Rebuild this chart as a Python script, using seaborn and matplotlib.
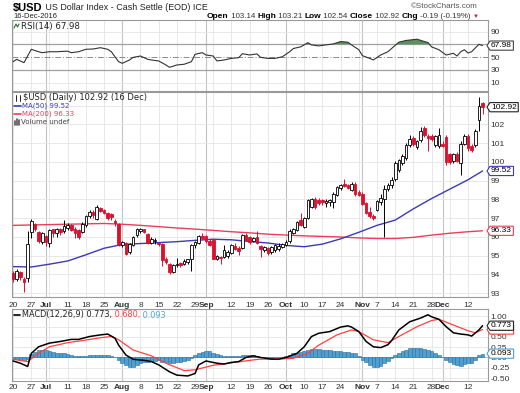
import numpy as np
import pandas as pd
import matplotlib
matplotlib.use("Agg")
import matplotlib.pyplot as plt
from matplotlib.lines import Line2D
from matplotlib.patches import Polygon
import seaborn as sns

# ---------------- data ----------------
dates = pd.bdate_range("2016-06-20", "2016-12-16")

open_ = [94.10, 93.75, 94.15, 93.75, 93.80, 96.25, 96.70, 96.25, 95.75, 96.05,
         95.70, 96.40, 96.20, 96.40, 96.30, 96.50, 96.65, 96.45, 96.35, 96.25,
         96.65, 97.10, 97.35, 96.95, 97.55, 97.45, 97.30, 97.20, 96.85, 96.70,
         95.55, 95.70, 95.20, 95.55, 96.10, 96.30, 96.40, 96.15, 95.70, 95.80,
         95.70, 95.65, 94.80, 94.55, 94.15, 94.50, 94.60, 94.55, 94.65, 94.80,
         95.55, 95.70, 96.05, 96.05, 95.80, 95.85, 94.80, 94.95, 94.95, 95.00,
         95.15, 95.50, 95.40, 95.40, 96.10, 96.00, 95.80, 96.00, 95.50, 95.30,
         95.40, 95.20, 95.30, 95.35, 95.45, 95.55, 95.80, 96.20, 96.35, 96.90,
         96.55, 97.00, 97.60, 98.05, 97.95, 97.95, 97.80, 97.85, 97.85, 98.25,
         98.60, 98.80, 98.75, 98.50, 98.85, 98.40, 98.30, 97.80, 97.35, 97.10,
         97.45, 97.85, 98.00, 98.55, 98.75, 99.10, 99.55, 99.95, 100.20, 100.90,
         101.30, 100.80, 101.15, 101.80, 101.40, 101.40, 100.90, 100.85, 100.95, 101.35,
         100.40, 100.05, 100.40, 99.95, 100.95, 101.40, 100.85, 100.90, 102.25, 103.14]
high = [94.20, 94.30, 94.20, 93.85, 96.30, 96.95, 96.75, 96.30, 96.25, 96.10,
        96.40, 96.45, 96.50, 96.50, 96.90, 96.75, 96.70, 96.55, 96.40, 96.80,
        97.15, 97.45, 97.45, 97.70, 97.60, 97.50, 97.35, 97.30, 96.95, 96.75,
        95.80, 95.75, 95.70, 96.05, 96.50, 96.50, 96.45, 96.20, 96.00, 95.95,
        95.75, 95.70, 94.95, 94.60, 94.55, 94.90, 94.65, 94.80, 94.85, 95.60,
        95.80, 96.10, 96.20, 96.10, 95.90, 95.90, 95.05, 95.00, 95.55, 95.30,
        95.60, 95.70, 95.50, 96.15, 96.20, 96.05, 96.00, 96.30, 95.55, 95.50,
        95.45, 95.50, 95.60, 95.70, 95.70, 95.85, 96.45, 96.50, 96.85, 97.30,
        97.05, 98.05, 98.10, 98.15, 98.10, 98.00, 98.00, 98.00, 98.40, 98.70,
        98.85, 99.10, 98.85, 98.95, 98.95, 98.50, 98.40, 97.85, 97.60, 97.25,
        97.95, 98.30, 98.75, 98.90, 99.20, 100.05, 100.15, 100.40, 101.00, 101.45,
        101.40, 101.15, 101.85, 101.90, 101.50, 101.50, 101.45, 101.80, 101.10, 101.45,
        100.50, 100.50, 100.55, 101.10, 101.50, 101.50, 100.95, 101.75, 103.45, 103.21]
low = [93.60, 93.65, 93.70, 93.05, 93.60, 95.95, 96.30, 95.70, 95.60, 95.50,
       95.45, 96.00, 96.00, 96.10, 96.20, 96.35, 96.30, 95.95, 95.90, 96.20,
       96.55, 97.00, 97.00, 96.90, 97.35, 97.20, 96.90, 96.90, 96.60, 95.50,
       95.45, 95.05, 95.10, 95.50, 96.00, 96.20, 96.20, 95.60, 95.60, 95.60,
       95.50, 94.45, 94.55, 94.05, 94.10, 94.40, 94.40, 94.50, 94.55, 94.20,
       95.40, 95.65, 95.90, 95.70, 95.50, 94.80, 94.75, 94.55, 94.90, 94.90,
       95.10, 95.30, 95.05, 95.35, 95.80, 95.65, 95.75, 95.60, 94.95, 95.20,
       95.05, 95.10, 95.20, 95.25, 95.40, 95.50, 95.70, 96.15, 96.30, 96.60,
       96.50, 96.95, 97.55, 97.50, 97.70, 97.70, 97.60, 97.65, 97.55, 98.20,
       98.50, 98.65, 98.55, 98.45, 98.20, 98.20, 97.70, 97.20, 97.00, 96.90,
       97.40, 97.70, 96.00, 98.45, 98.60, 99.00, 99.45, 99.85, 100.10, 100.80,
       100.85, 100.70, 101.05, 101.35, 100.60, 101.10, 100.80, 100.75, 100.80, 99.85,
       99.90, 99.95, 100.00, 99.30, 100.90, 100.60, 100.55, 100.80, 101.65, 102.54]
close = [93.75, 94.20, 93.85, 93.60, 95.60, 96.85, 96.40, 95.80, 96.20, 95.75,
         96.35, 96.20, 96.40, 96.25, 96.60, 96.65, 96.35, 96.20, 96.00, 96.70,
         97.10, 97.35, 97.15, 97.60, 97.40, 97.30, 97.00, 97.05, 96.75, 95.55,
         95.75, 95.10, 95.60, 96.00, 96.40, 96.40, 96.25, 95.70, 95.90, 95.85,
         95.60, 94.75, 94.65, 94.15, 94.50, 94.55, 94.50, 94.70, 94.80, 95.55,
         95.75, 96.05, 95.95, 95.80, 95.55, 94.85, 95.00, 94.90, 95.30, 95.20,
         95.55, 95.35, 95.25, 96.10, 95.85, 95.75, 95.95, 95.70, 95.35, 95.45,
         95.15, 95.45, 95.55, 95.50, 95.60, 95.75, 96.30, 96.40, 96.80, 96.65,
         97.00, 97.95, 98.05, 97.60, 97.80, 97.85, 97.90, 97.95, 98.30, 98.65,
         98.75, 98.70, 98.60, 98.85, 98.30, 98.25, 97.75, 97.30, 97.10, 97.00,
         97.90, 98.10, 98.55, 98.75, 99.05, 99.95, 100.10, 100.30, 100.90, 101.25,
         100.95, 101.10, 101.65, 101.45, 101.30, 101.25, 101.40, 101.45, 100.85, 100.00,
         100.00, 100.40, 100.05, 100.95, 101.40, 100.75, 100.65, 101.65, 103.00, 102.92]

ma_day = [0, 5, 10, 15, 20, 25, 30, 35, 40, 45, 50, 55, 60, 65, 70, 75, 80,
          85, 90, 95, 100, 105, 110, 115, 120, 125, 129]
ma50 = [94.42, 94.40, 94.55, 94.72, 95.05, 95.40, 95.60, 95.65, 95.70, 95.75,
        95.82, 95.88, 95.85, 95.76, 95.68, 95.55, 95.48, 95.62, 95.90, 96.25,
        96.62, 96.90, 97.50, 98.05, 98.55, 99.05, 99.52]
ma200 = [96.62, 96.64, 96.66, 96.68, 96.70, 96.72, 96.68, 96.62, 96.55, 96.48,
         96.42, 96.35, 96.28, 96.22, 96.15, 96.10, 96.06, 96.03, 96.00, 95.95,
         95.92, 95.92, 95.98, 96.10, 96.20, 96.28, 96.33]

rsi_day = [0, 1, 3, 5, 7, 8, 10, 12, 15, 16, 18, 20, 22, 24, 26, 27, 29, 30, 32,
           33, 35, 37, 38, 40, 42, 43, 45, 47, 49, 50, 52, 53, 55, 56, 58, 60,
           62, 63, 65, 67, 68, 70, 72, 74, 76, 77, 79, 81, 82, 84, 86, 88, 90,
           92, 93, 95, 96, 98, 99, 101, 103, 104, 106, 108, 111, 113, 114, 115,
           117, 119, 121, 122, 123, 124, 125, 126, 128, 129]
rsi_val = [42.8, 46.5, 41.3, 62.2, 58.4, 56.9, 58.4, 58.4, 59.3, 56.9, 58.4,
           62.2, 62.7, 64.7, 62.2, 58.4, 42.8, 40.3, 45.5, 49.6, 51.7, 46.5,
           45.5, 44.0, 37.7, 34.0, 37.7, 38.8, 42.8, 54.4, 56.9, 53.3, 51.7,
           44.0, 45.5, 48.0, 49.1, 55.3, 53.3, 55.0, 49.6, 48.0, 48.0, 50.6,
           58.4, 63.4, 66.0, 72.5, 69.1, 67.5, 69.1, 70.6, 74.3, 73.3, 69.1,
           61.5, 52.2, 48.0, 45.5, 53.3, 58.4, 63.4, 73.3, 76.0, 78.0, 74.3,
           72.8, 66.0, 61.5, 53.3, 55.9, 51.7, 58.4, 61.5, 56.4, 58.4, 70.0, 67.98]

macd_day = [0, 2, 4, 5, 7, 10, 13, 16, 18, 21, 24, 26, 28, 29, 31, 33, 36, 38,
            40, 43, 45, 48, 50, 51, 53, 56, 58, 60, 62, 64, 66, 68, 71, 73, 75,
            78, 80, 82, 84, 87, 90, 92, 93, 95, 97, 99, 101, 103, 104, 106, 109,
            112, 114, 115, 117, 119, 121, 123, 125, 126, 128, 129]
macd_val = [-0.085, -0.14, -0.22, 0.10, 0.26, 0.35, 0.39, 0.44, 0.44, 0.51, 0.55,
            0.57, 0.47, 0.30, 0.06, -0.045, -0.07, -0.10, -0.18, -0.35, -0.43,
            -0.45, -0.39, -0.18, -0.085, -0.14, -0.16, -0.12, -0.10, 0.0, 0.04,
            0.0, -0.04, -0.04, 0.0, 0.10, 0.26, 0.51, 0.59, 0.63, 0.74, 0.77,
            0.74, 0.63, 0.39, 0.26, 0.24, 0.31, 0.41, 0.67, 0.87, 0.96, 1.04,
            0.99, 0.93, 0.75, 0.60, 0.57, 0.55, 0.52, 0.67, 0.773]
signal_day = [0, 4, 7, 10, 15, 19, 24, 27, 29, 33, 38, 42, 47, 50, 55, 60, 66,
              68, 73, 77, 81, 84, 89, 93, 95, 99, 103, 106, 111, 115, 117, 121,
              125, 127, 129]
signal_val = [-0.045, -0.10, 0.10, 0.26, 0.36, 0.41, 0.48, 0.51, 0.43, 0.18,
              0.04, -0.14, -0.32, -0.30, -0.19, -0.13, -0.06, -0.04, -0.04,
              -0.02, 0.10, 0.30, 0.55, 0.67, 0.63, 0.43, 0.36, 0.51, 0.75, 0.90,
              0.93, 0.79, 0.65, 0.60, 0.68]
hist = [-0.03, -0.04, -0.05, -0.06, -0.03, 0.08, 0.14, 0.17, 0.18, 0.17,
        0.15, 0.13, 0.12, 0.11, 0.10, 0.08, 0.06, 0.04, 0.03, 0.03,
        0.04, 0.05, 0.06, 0.07, 0.07, 0.06, 0.05, 0.03, 0.0, -0.06,
        -0.13, -0.19, -0.23, -0.22, -0.18, -0.14, -0.11, -0.10, -0.09, -0.08,
        -0.07, -0.10, -0.12, -0.14, -0.13, -0.12, -0.10, -0.08, -0.06, -0.02,
        0.05, 0.10, 0.13, 0.15, 0.15, 0.12, 0.08, 0.05, 0.04, 0.03,
        0.03, 0.03, 0.03, 0.05, 0.06, 0.07, 0.06, 0.04, 0.02, 0.01,
        0.0, -0.01, 0.0, 0.01, 0.02, 0.04, 0.07, 0.10, 0.12, 0.14,
        0.16, 0.19, 0.20, 0.20, 0.20, 0.19, 0.18, 0.17, 0.16, 0.15,
        0.15, 0.14, 0.13, 0.12, 0.10, 0.03, -0.05, -0.12, -0.18, -0.22,
        -0.24, -0.20, -0.14, -0.08, -0.02, 0.05, 0.10, 0.15, 0.19, 0.22,
        0.24, 0.23, 0.22, 0.21, 0.19, 0.16, 0.12, 0.07, 0.02, -0.05,
        -0.11, -0.15, -0.19, -0.20, -0.17, -0.14, -0.13, -0.06, 0.05, 0.093]

tick_labels = ["20", "27", "Jul", "11", "18", "25", "Aug", "8", "15", "22", "29",
               "Sep", "12", "19", "26", "Oct", "10", "17", "24", "Nov", "7", "14",
               "21", "28", "Dec", "12"]
tick_dates = ["2016-06-20", "2016-06-27", "2016-07-01", "2016-07-11", "2016-07-18",
              "2016-07-25", "2016-08-01", "2016-08-08", "2016-08-15", "2016-08-22",
              "2016-08-29", "2016-09-01", "2016-09-12", "2016-09-19", "2016-09-26",
              "2016-10-03", "2016-10-10", "2016-10-17", "2016-10-24", "2016-11-01",
              "2016-11-07", "2016-11-14", "2016-11-21", "2016-11-28", "2016-12-01",
              "2016-12-12"]
month_labels = ["Jul", "Aug", "Sep", "Oct", "Nov", "Dec"]

# ---------------- style ----------------
sns.set_theme(style="white")
plt.rcParams['font.family'] = ['Liberation Sans', 'DejaVu Sans']

W, H = 520, 393
fig = plt.figure(figsize=(W / 100, H / 100), dpi=100)
fig.patch.set_facecolor("white")

def fx(px):
    return px / W

def fy(py):
    return 1 - py / H

L, R = 12, 488
ax_r = fig.add_axes([fx(L), fy(91), (R - L) / W, (91 - 20) / H])
ax_p = fig.add_axes([fx(L), fy(297), (R - L) / W, (297 - 92) / H])
ax_m = fig.add_axes([fx(L), fy(381), (R - L) / W, (381 - 309) / H])

n = len(dates)
xi = np.arange(n)
tick_idx = [dates.get_loc(pd.Timestamp(d)) for d in tick_dates]
mondays = [i for i, d in enumerate(dates) if d.weekday() == 0]
month_idx = [tick_idx[k] for k, lab in enumerate(tick_labels) if lab in month_labels]

RED = "#d9102e"
GRID = "#e4e4e4"
MGRID = "#c4c4c4"
SPINE = "#9a9a9a"
LBL = "#333333"
MA50C = "#3b3bb5"
MA200C = "#e8405a"
SIGC = "#ff4040"
HISTC = "#4f9fd2"

for ax in (ax_r, ax_p, ax_m):
    ax.set_facecolor("white")
    ax.set_xlim(-0.3, 130.5)
    for s in ax.spines.values():
        s.set_color(SPINE)
        s.set_linewidth(0.8)
    for m in mondays:
        ax.axvline(m, color=GRID, lw=0.6, zorder=0)
    for m in month_idx:
        ax.axvline(m, color=MGRID, lw=0.8, zorder=0)
    ax.yaxis.tick_right()
    ax.tick_params(axis='y', length=0, pad=2, labelsize=6, labelcolor=LBL)
    ax.tick_params(axis='x', length=0)
    ax.grid(False)

# ---------------- RSI ----------------
ax_r.set_ylim(-3, 108)
for v in (10, 90):
    ax_r.axhline(v, color=GRID, lw=0.6, zorder=0)
ax_r.axhline(70, color="#a0a0a0", lw=0.9, zorder=1)
ax_r.axhline(30, color="#a0a0a0", lw=0.9, zorder=1)
ax_r.axhline(50, color="#8a8a8a", lw=0.7, ls=(0, (6, 2, 1, 2)), zorder=1)
rsi_x = np.array(rsi_day, dtype=float)
rsi_y = np.array(rsi_val)
ax_r.fill_between(rsi_x, rsi_y, 70, where=rsi_y > 70, interpolate=True,
                  color="#5e8f5e", lw=0, zorder=2)
sns.lineplot(x=rsi_x, y=rsi_y, ax=ax_r, color="#333333", lw=0.8, zorder=3)
ax_r.set_yticks([10, 30, 50, 90])
ax_r.set_yticklabels(["10", "30", "50", "90"])
ax_r.set_xticks([])
ax_r.set_xlabel("")
ax_r.set_ylabel("")

# ---------------- Price ----------------
ax_p.set_ylim(92.8, 103.73)
for v in range(93, 104):
    ax_p.axhline(v, color=GRID, lw=0.6, zorder=0)
o = np.array(open_)
c = np.array(close)
hi = np.array(high)
lo = np.array(low)
up = c >= o
cols = np.where(up, "black", RED)
ax_p.vlines(xi, lo, hi, colors=cols, lw=0.7, zorder=3)
body_bot = np.minimum(o, c)
body_h = np.maximum(np.abs(c - o), 0.03)
ax_p.bar(xi, body_h, bottom=body_bot, width=0.72,
         color=np.where(up, "white", RED), edgecolor=cols, lw=0.6, zorder=4)
sns.lineplot(x=ma_day, y=ma200, ax=ax_p, color=MA200C, lw=1.0, zorder=2)
sns.lineplot(x=ma_day, y=ma50, ax=ax_p, color=MA50C, lw=1.0, zorder=2)
ax_p.set_yticks(range(93, 103))
ax_p.set_xticks(tick_idx)
ax_p.set_xticklabels(tick_labels)
ax_p.set_xlabel("")
ax_p.set_ylabel("")

# ---------------- MACD ----------------
ax_m.set_ylim(-0.573, 1.18)
for v in (-0.5, -0.25, 0.25, 0.5, 0.75, 1.0):
    ax_m.axhline(v, color=GRID, lw=0.6, zorder=0)
ax_m.axhline(0, color="#bdbdbd", lw=0.7, zorder=0)
ax_m.bar(xi, hist, width=1.0, color=HISTC, edgecolor="#2b6e9c", lw=0.4, zorder=2)
sns.lineplot(x=signal_day, y=signal_val, ax=ax_m, color=SIGC, lw=0.9, zorder=3)
sns.lineplot(x=macd_day, y=macd_val, ax=ax_m, color="black", lw=1.1, zorder=4)
ax_m.set_yticks([-0.5, -0.25, 0, 0.25, 0.5, 1.0])
ax_m.set_yticklabels(["-0.50", "-0.25", "0.00", "0.25", "0.50", "1.00"])
ax_m.set_xticks(tick_idx)
ax_m.set_xticklabels(tick_labels)
ax_m.set_xlabel("")
ax_m.set_ylabel("")

ax_p.tick_params(axis='x', labelsize=6.0, pad=3.5, labelcolor=LBL)
ax_m.tick_params(axis='x', labelsize=6.0, pad=2.5, labelcolor=LBL)
for ax in (ax_p, ax_m):
    for t in ax.get_xticklabels():
        if t.get_text() in month_labels:
            t.set_fontweight("bold")

# ---------------- texts ----------------
fig.canvas.draw()
rend = fig.canvas.get_renderer()

def tag(ax, val, txt, ec, z=10):
    ypx = H - ax.transData.transform((0, val))[1]
    t = fig.text(fx(491), fy(ypx), txt, fontsize=6, va="center", ha="left",
                 color="black", zorder=z + 1)
    bb = t.get_window_extent(rend)
    x1 = bb.x1 + 1.5
    hh = 4.6
    pts = [[fx(487), fy(ypx)], [fx(490), fy(ypx - hh)], [fx(x1), fy(ypx - hh)],
           [fx(x1), fy(ypx + hh)], [fx(490), fy(ypx + hh)]]
    fig.add_artist(Polygon(pts, closed=True, transform=fig.transFigure, fc="white",
                           ec=ec, lw=0.8, zorder=z))

tag(ax_r, rsi_val[-1], f"{rsi_val[-1]:.2f}", "#444444")
tag(ax_p, close[-1], f"{close[-1]:.2f}", "#222222")
tag(ax_p, ma50[-1], f"{ma50[-1]:.2f}", MA50C)
tag(ax_p, ma200[-1], f"{ma200[-1]:.2f}", MA200C)
tag(ax_m, hist[-1], f"{hist[-1]:.3f}", HISTC)
tag(ax_m, signal_val[-1], f"{signal_val[-1]:.3f}", SIGC, z=8)
tag(ax_m, macd_val[-1], f"{macd_val[-1]:.3f}", "#222222", z=10)

def seq(x0, y, parts, gap=0.0):
    x = x0
    for s, kw in parts:
        t = fig.text(fx(x), fy(y), s, va="center", ha="left", **kw)
        x += t.get_window_extent(rend).width + gap
    return x

seq(13, 8, [("$USD", dict(fontsize=8, fontweight="bold", color="black")),
            (" US Dollar Index - Cash Settle (EOD) ICE", dict(fontsize=6.4, color="#222222"))])
fig.text(fx(13), fy(16), "16-Dec-2016", fontsize=5.5, color="#222222", va="center")
fig.text(fx(478), fy(6), "\u00a9StockCharts.com", fontsize=5.8, color="#555555",
         va="center", ha="right")
b = dict(fontsize=6.0, fontweight="bold", color="black")
nrm = dict(fontsize=5.7, color="#333333")
seq(207, 16, [("Open", b), (" 103.14 ", nrm), ("High", b), (" 103.21 ", nrm),
              ("Low", b), (" 102.54 ", nrm), ("Close", b), (" 102.92 ", nrm),
              ("Chg", b), (" -0.19 (-0.19%) ", nrm),
              ("\u25bc", dict(fontsize=4.3, color=RED))])

sansf = ['DejaVu Sans']
fig.text(fx(21), fy(26), "RSI(14) 67.98", fontsize=6.2, family=sansf, color="#222222", va="center")
fig.add_artist(Line2D([fx(14), fx(16), fx(17.5), fx(19)], [fy(28), fy(24), fy(27), fy(24)],
                      color="#2f6f2f", lw=0.8))

fig.text(fx(23), fy(98), "$USD (Daily) 102.92 (16 Dec)", fontsize=6.0, family=sansf,
         color="#222222", va="center")
fig.add_artist(Line2D([fx(16), fx(16)], [fy(95), fy(101)], color="black", lw=0.6))
fig.add_artist(Line2D([fx(19.5), fx(19.5)], [fy(95), fy(101)], color="black", lw=0.6))
fig.text(fx(22), fy(106), "MA(50) 99.52", fontsize=5.0, family=sansf, color=MA50C, va="center")
fig.add_artist(Line2D([fx(14), fx(21)], [fy(106), fy(106)], color=MA50C, lw=1.2))
fig.text(fx(22), fy(114), "MA(200) 96.33", fontsize=5.0, family=sansf, color=MA200C, va="center")
fig.add_artist(Line2D([fx(14), fx(21)], [fy(114), fy(114)], color=MA200C, lw=1.2))
fig.text(fx(21), fy(122), "Volume undef", fontsize=5.0, family=sansf, color="#444444", va="center")
for k, hgt in enumerate((4, 6, 5)):
    fig.add_artist(Line2D([fx(14.5 + 2 * k)] * 2, [fy(125), fy(125 - hgt)], color="#555555", lw=1.2))

fig.add_artist(Line2D([fx(14), fx(20)], [fy(315), fy(315)], color="black", lw=1.2))
seq(22, 315, [("MACD(12,26,9) 0.773,", dict(fontsize=5.9, family=sansf, color="#222222")),
              (" 0.680,", dict(fontsize=5.9, family=sansf, color=SIGC)),
              (" 0.093", dict(fontsize=5.9, family=sansf, color="#4fa3da"))])

fig.savefig("out.png", dpi=100, facecolor="white")
